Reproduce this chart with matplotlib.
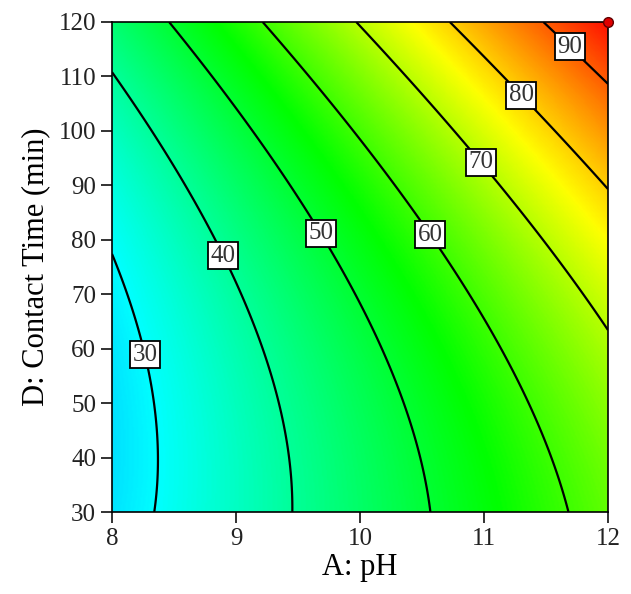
import numpy as np
import matplotlib
matplotlib.use('Agg')
import matplotlib.pyplot as plt
from matplotlib.colors import LinearSegmentedColormap

# quadratic model in coded units (x = pH, y = contact time)
coef_names = ['b0', 'A', 'D', 'AD', 'A2', 'D2']
coef_vals = [51.76, 22.23, 12.75, 4.27, 0.0, 5.89]

ph_range = [8, 12]
time_range = [30, 120]
levels = [30, 40, 50, 60, 70, 80, 90]
label_pos = [(8.29, 59), (8.95, 77.6), (9.73, 81.8), (10.62, 81.8),
             (11.03, 95.3), (11.36, 107.8), (11.75, 116.8)]
xticks = [8, 9, 10, 11, 12]
yticks = [30, 40, 50, 60, 70, 80, 90, 100, 110, 120]
design_pt = (12, 120)

plt.rcParams['font.family'] = ['Liberation Serif', 'DejaVu Serif']

b = dict(zip(coef_names, coef_vals))
ph = np.linspace(ph_range[0], ph_range[1], 400)
tm = np.linspace(time_range[0], time_range[1], 400)
P, T = np.meshgrid(ph, tm)
xc = (P - 10) / 2
yc = (T - 75) / 45
Z = (b['b0'] + b['A'] * xc + b['D'] * yc + b['AD'] * xc * yc
     + b['A2'] * xc ** 2 + b['D2'] * yc ** 2)

vmin, vmax = 8, 97
stops = [(0.0, '#0040ff'), ((30 - vmin) / (vmax - vmin), '#00ffff'),
         ((55 - vmin) / (vmax - vmin), '#00ff00'),
         ((76 - vmin) / (vmax - vmin), '#ffff00'), (1.0, '#ff1000')]
cmap = LinearSegmentedColormap.from_list('de', stops)

fig = plt.figure(figsize=(6.31, 5.94), dpi=100)
ax = fig.add_axes([0.1775, 0.138, 0.786, 0.825])
ax.pcolormesh(P, T, Z, cmap=cmap, vmin=vmin, vmax=vmax, shading='gouraud')
cs = ax.contour(P, T, Z, levels=levels, colors='black', linewidths=1.6)
txts = ax.clabel(cs, fmt='%d', manual=label_pos, inline=False)
for t in txts:
    t.set_rotation(0)
    t.set_fontsize(18)
    t.set_color('#333333')
    t.set_bbox(dict(boxstyle='square,pad=0.1', facecolor='white',
                    edgecolor='black', linewidth=1.3))

ax.plot(*design_pt, 'o', color='#e00000', markeredgecolor='#600000',
        markersize=7, clip_on=False, zorder=5)

ax.set_xlim(ph_range)
ax.set_ylim(time_range)
ax.set_xticks(xticks)
ax.set_yticks(yticks)
ax.tick_params(direction='out', length=8, width=1.3, labelsize=18, colors='#222222')
for s in ax.spines.values():
    s.set_linewidth(1.2)
ax.set_xlabel('A: pH', fontsize=22, labelpad=2)
ax.set_ylabel('D: Contact Time (min)', fontsize=22, labelpad=6)

fig.savefig('out.png', dpi=100)
